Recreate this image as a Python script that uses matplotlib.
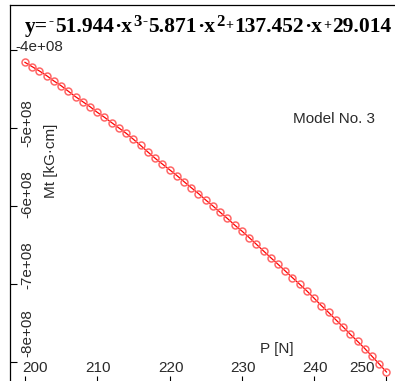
import numpy as np
import matplotlib.pyplot as plt

# load P [N] and bending moment Mt [kG*cm] (in units of 1e8)
P = np.arange(200, 251)
Mt = -np.array([
    4.158, 4.214, 4.269, 4.329, 4.397, 4.458, 4.529, 4.599, 4.663, 4.727,
    4.799, 4.863, 4.932, 5.000, 5.068, 5.145, 5.224, 5.308, 5.388, 5.462,
    5.535, 5.609, 5.688, 5.765, 5.841, 5.923, 6.000, 6.081, 6.160, 6.244,
    6.321, 6.404, 6.490, 6.577, 6.663, 6.747, 6.833, 6.919, 7.004, 7.090,
    7.183, 7.278, 7.365, 7.459, 7.550, 7.645, 7.735, 7.827, 7.927, 8.026,
    8.128]) * 1e8

xticks = [200, 210, 220, 230, 240, 250]
yticks = [-4e8, -5e8, -6e8, -7e8, -8e8]
ytick_labels = ['-4e+08', '-5e+08', '-6e+08', '-7e+08', '-8e+08']

# fitted polynomial, split into (text, size, baseline shift in px)
eq_parts = [('y=', 15.5, 0), ('-', 11, 7), ('51.944', 15.5, 0), ('\u00b7x', 15.5, 0),
            ('3', 12, 6), ('-', 11, 7), ('5.871', 15.5, 0), ('\u00b7x', 15.5, 0),
            ('2', 12, 6), ('+', 10, 2.5), ('137.452', 15.5, 0), ('\u00b7x', 15.5, 0),
            ('+', 10, 2.5), ('29.014', 15.5, 0)]

W, H = 395, 381
plt.rcParams['font.family'] = 'Liberation Sans'
fig = plt.figure(figsize=(W / 100, H / 100), dpi=100)
ax = fig.add_axes([10 / W, -2 / H, 390 / W, 378 / H])

ax.plot(P, Mt, color='red', lw=0.9, marker='o', ms=5, mfc='none',
        mec=(1, 0.4, 0.4), mew=1.1)

ax.set_xlim(197.93, 251.87)
ax.set_ylim(-8.269e8, -3.423e8)
ax.set_xticks(xticks)
ax.set_yticks(yticks)
ax.tick_params(direction='in', length=5, width=0.8, colors='black',
               labelbottom=False, labelleft=False)
ax.spines['right'].set_visible(False)
for s in ['left', 'top', 'bottom']:
    ax.spines[s].set_linewidth(0.9)

txt = dict(fontsize=11, color='#2a2a2a')

# x tick labels sit inside the frame, end ones pulled inward
for i, v in enumerate(xticks):
    if i == 0:
        ha, dx = 'left', -3
    elif i == len(xticks) - 1:
        ha, dx = 'right', -12
    else:
        ha, dx = 'center', 1
    ax.annotate(str(v), xy=(v, 0), xycoords=('data', 'axes fraction'),
                xytext=(dx, 15), textcoords='offset pixels',
                ha=ha, va='center', **txt)

# y tick labels: first one horizontal, the rest rotated
yoff = [0, 4.5, 12, 19, 29]
for i, (v, lab) in enumerate(zip(yticks, ytick_labels)):
    if i == 0:
        ax.annotate(lab, xy=(0, v), xycoords=('axes fraction', 'data'),
                    xytext=(5, 3), textcoords='offset pixels',
                    ha='left', va='center', **txt)
    else:
        ax.annotate(lab, xy=(0, v), xycoords=('axes fraction', 'data'),
                    xytext=(17, yoff[i]), textcoords='offset pixels',
                    ha='center', va='center', rotation=90, **txt)

fig.text(277 / W, 1 - 349 / H, 'P [N]', ha='center', va='center', **txt)
fig.text(51 / W, 1 - 161 / H, 'Mt [kG\u00b7cm]', ha='center', va='center',
         rotation=90, **txt)
fig.text(334 / W, 1 - 119 / H, 'Model No. 3', ha='center', va='center', **txt)

# equation title, laid out piece by piece
renderer = fig.canvas.get_renderer()
x = 25
for s, size, dy in eq_parts:
    t = fig.text(x / W, 1 - (32 - dy) / H, s, fontsize=size, fontweight='bold',
                 family='Liberation Serif', color='black', ha='left', va='baseline')
    x += t.get_window_extent(renderer).width + 0.8

fig.savefig('out.png', dpi=100)
